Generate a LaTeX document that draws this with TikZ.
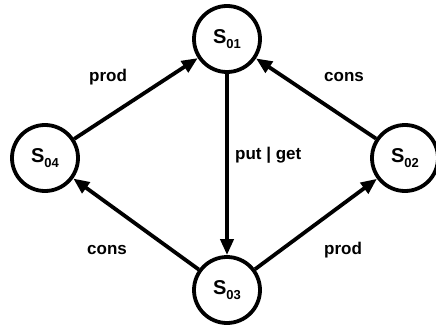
\documentclass[tikz,border=0pt]{standalone}
\usepackage{fontspec}
\setmainfont{Liberation Sans}
\usepackage{tikz}
\usetikzlibrary{arrows.meta, positioning}
\newcommand{\stname}[1]{S\raisebox{-0.4ex}{\fontsize{13}{13}\selectfont #1}}
\tikzset{
  statenode/.style={
    circle, draw, line width=3.8pt, minimum size=66pt, inner sep=0pt,
    font=\fontsize{20}{20}\selectfont\bfseries
  },
  arrow/.style={-{Triangle[length=16pt, width=13pt]}, line width=3.8pt},
  tlabel/.style={font=\fontsize{17}{17}\selectfont\bfseries, inner sep=1pt},
}
\begin{document}
\begin{tikzpicture}[x=1pt, y=-1pt]
  \useasboundingbox (0,0) rectangle (436,329);

  % States
  \node[statenode] (s01) at (227,39)  {\stname{01}};
  \node[statenode] (s02) at (405,158) {\stname{02}};
  \node[statenode] (s03) at (227,290) {\stname{03}};
  \node[statenode] (s04) at (45,158)  {\stname{04}};

  % Transitions
  \draw[arrow] (s04) -- (s01);
  \draw[arrow] (s02) -- (s01);
  \draw[arrow] (s01) -- (s03);
  \draw[arrow] (s03) -- (s04);
  \draw[arrow] (s03) -- (s02);

  % Labels
  \node[tlabel] (prodtop) at (108,77)  {prod};
  \node[tlabel] (constop) at (344,77)  {cons};
  \node[tlabel, anchor=west] (putget) at (234,155) {put | get};
  \node[tlabel] (consbot) at (107,250) {cons};
  \node[tlabel] (prodbot) at (343,250) {prod};
\end{tikzpicture}
\end{document}
